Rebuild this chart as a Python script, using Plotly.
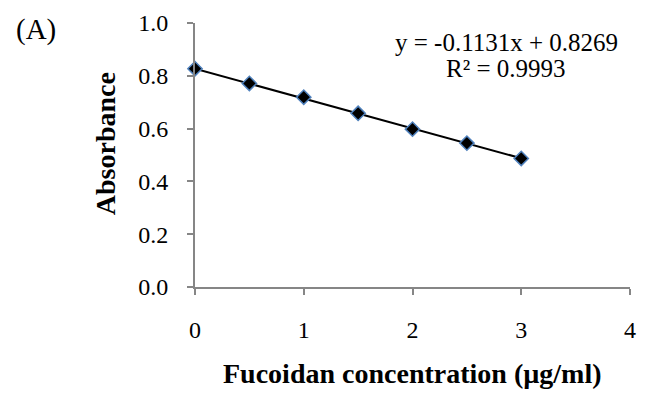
import plotly.graph_objects as go

conc = [0, 0.5, 1, 1.5, 2, 2.5, 3]
absorbance = [0.827, 0.771, 0.719, 0.658, 0.598, 0.545, 0.487]
slope = -0.1131
intercept = 0.8269
r2 = 0.9993
x_ticks = [0, 1, 2, 3, 4]
y_ticks = [0.0, 0.2, 0.4, 0.6, 0.8, 1.0]

trend_x = [min(conc), max(conc)]
trend_y = [slope * v + intercept for v in trend_x]

FONT = "Liberation Serif, Times New Roman, serif"
AX = "#868686"
L, B, W, H = 195, 287, 441, 264

def px(xp):
    return (xp - L) / W

def py(yp):
    return (B - yp) / H

fig = go.Figure()
fig.add_trace(go.Scatter(x=trend_x, y=trend_y, mode="lines",
                         line=dict(color="black", width=2), cliponaxis=False,
                         hoverinfo="skip"))
fig.add_trace(go.Scatter(x=conc, y=absorbance, mode="markers", cliponaxis=False,
                         marker=dict(symbol="diamond", size=11, color="black",
                                     line=dict(color="#4F81BD", width=1.5))))

fig.update_layout(
    width=645, height=396, showlegend=False,
    paper_bgcolor="white", plot_bgcolor="white",
    margin=dict(l=195, r=9, t=23, b=109),
    font=dict(family=FONT, color="black", size=24),
    xaxis=dict(range=[0, 4], tickvals=x_ticks, ticktext=[str(v) for v in x_ticks],
               showgrid=False, zeroline=False, showline=True, linecolor=AX, linewidth=2,
               ticks="outside", tickcolor=AX, ticklen=6, tickwidth=2,
               tickfont=dict(size=24, family=FONT), ticklabelstandoff=14),
    yaxis=dict(range=[0, 1], tickvals=y_ticks, ticktext=[f"{v:.1f}" for v in y_ticks],
               showgrid=False, zeroline=False, showline=True, linecolor=AX, linewidth=2,
               ticks="outside", tickcolor=AX, ticklen=6, tickwidth=2,
               tickfont=dict(size=24, family=FONT), ticklabelstandoff=14),
    annotations=[
        dict(text="<b>Fucoidan concentration (µg/ml)</b>", xref="paper", yref="paper",
             x=px(415), y=py(373), xanchor="center", yanchor="middle",
             showarrow=False, font=dict(size=28, family=FONT)),
        dict(text="<b>Absorbance</b>", xref="paper", yref="paper",
             x=px(104), y=py(144), xanchor="center", yanchor="middle",
             textangle=-90, showarrow=False, font=dict(size=28, family=FONT)),
        dict(text=f"y = {slope}x + {intercept}", xref="paper", yref="paper",
             x=px(511), y=py(42), xanchor="center", yanchor="middle",
             showarrow=False, font=dict(size=25, family=FONT)),
        dict(text=f"R² = {r2}", xref="paper", yref="paper",
             x=px(510), y=py(69), xanchor="center", yanchor="middle",
             showarrow=False, font=dict(size=25, family=FONT)),
        dict(text="(A)", xref="paper", yref="paper",
             x=px(34), y=py(30), xanchor="center", yanchor="middle",
             showarrow=False, font=dict(size=29, family=FONT)),
    ],
)

fig.write_html("out.html")
